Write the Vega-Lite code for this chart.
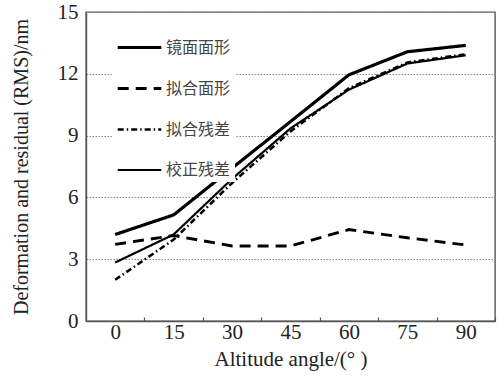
{
  "$schema": "https://vega.github.io/schema/vega-lite/v6.json",
  "width": 409,
  "height": 309,
  "autosize": "none",
  "padding": {"left": 86, "top": 12, "right": 4, "bottom": 58},
  "background": "white",
  "config": {
    "view": {"stroke": "#555", "strokeWidth": 1.4},
    "font": "Times New Roman, Liberation Serif, serif"
  },
  "data": {
    "values": [
      {"angle": 0, "value": 4.2, "series": "镜面面形"},
      {"angle": 15, "value": 5.15, "series": "镜面面形"},
      {"angle": 30, "value": 7.42, "series": "镜面面形"},
      {"angle": 45, "value": 9.68, "series": "镜面面形"},
      {"angle": 60, "value": 11.95, "series": "镜面面形"},
      {"angle": 75, "value": 13.07, "series": "镜面面形"},
      {"angle": 90, "value": 13.38, "series": "镜面面形"},
      {"angle": 0, "value": 3.72, "series": "拟合面形"},
      {"angle": 15, "value": 4.15, "series": "拟合面形"},
      {"angle": 30, "value": 3.64, "series": "拟合面形"},
      {"angle": 45, "value": 3.64, "series": "拟合面形"},
      {"angle": 60, "value": 4.44, "series": "拟合面形"},
      {"angle": 75, "value": 4.04, "series": "拟合面形"},
      {"angle": 90, "value": 3.69, "series": "拟合面形"},
      {"angle": 0, "value": 2.0, "series": "拟合残差"},
      {"angle": 15, "value": 3.95, "series": "拟合残差"},
      {"angle": 30, "value": 6.7, "series": "拟合残差"},
      {"angle": 45, "value": 9.2, "series": "拟合残差"},
      {"angle": 60, "value": 11.3, "series": "拟合残差"},
      {"angle": 75, "value": 12.55, "series": "拟合残差"},
      {"angle": 90, "value": 12.95, "series": "拟合残差"},
      {"angle": 0, "value": 2.84, "series": "校正残差"},
      {"angle": 15, "value": 4.2, "series": "校正残差"},
      {"angle": 30, "value": 6.9, "series": "校正残差"},
      {"angle": 45, "value": 9.35, "series": "校正残差"},
      {"angle": 60, "value": 11.23, "series": "校正残差"},
      {"angle": 75, "value": 12.5, "series": "校正残差"},
      {"angle": 90, "value": 12.9, "series": "校正残差"}
    ]
  },
  "mark": {"type": "line", "color": "black", "clip": true},
  "encoding": {
    "x": {
      "field": "angle",
      "type": "quantitative",
      "scale": {"domain": [-7.5, 97.5], "nice": false, "zero": false},
      "axis": {
        "values": [0, 15, 30, 45, 60, 75, 90],
        "title": "Altitude angle/(°  )",
        "titleFont": "Times New Roman, Liberation Serif, serif",
        "titleFontSize": 21,
        "titleFontWeight": "normal",
        "titleColor": "#222",
        "titlePadding": 6,
        "labelFont": "Times New Roman, Liberation Serif, serif",
        "labelFontSize": 21,
        "labelColor": "#222",
        "labelPadding": 4,
        "labelOffset": -29.2,
        "tickSize": -4,
        "tickOffset": 29.2,
        "tickColor": "#555",
        "tickWidth": 1.2,
        "domainColor": "#555",
        "domainWidth": 1.4,
        "grid": false
      }
    },
    "y": {
      "field": "value",
      "type": "quantitative",
      "scale": {"domain": [0, 15], "nice": false},
      "axis": {
        "values": [0, 3, 6, 9, 12, 15],
        "title": "Deformation and residual (RMS)/nm",
        "titleFont": "Times New Roman, Liberation Serif, serif",
        "titleFontSize": 20,
        "titleFontWeight": "normal",
        "titleColor": "#222",
        "titlePadding": 26,
        "labelFont": "Times New Roman, Liberation Serif, serif",
        "labelFontSize": 21,
        "labelColor": "#222",
        "labelPadding": 8,
        "ticks": false,
        "domainColor": "#555",
        "domainWidth": 1.4,
        "grid": true,
        "gridColor": "#888",
        "gridDash": [1.5, 1.5],
        "gridWidth": 1
      }
    },
    "strokeDash": {
      "field": "series",
      "type": "nominal",
      "scale": {
        "domain": ["镜面面形", "拟合面形", "拟合残差", "校正残差"],
        "range": [[1, 0], [11, 7], [6, 3, 1.5, 3], [1, 0]]
      },
      "legend": {
        "title": null,
        "orient": "none",
        "legendX": 26,
        "legendY": 8,
        "symbolType": "stroke",
        "symbolSize": 1900,
        "symbolStrokeColor": "black",
        "labelFont": "Noto Sans CJK SC",
        "labelFontSize": 16,
        "labelColor": "#444",
        "rowPadding": 9,
        "labelOffset": 3,
        "fillColor": "white",
        "padding": 4
      }
    },
    "strokeWidth": {
      "field": "series",
      "type": "nominal",
      "scale": {
        "domain": ["镜面面形", "拟合面形", "拟合残差", "校正残差"],
        "range": [3.2, 2.2, 1.3, 1.3]
      },
      "legend": null
    }
  }
}
